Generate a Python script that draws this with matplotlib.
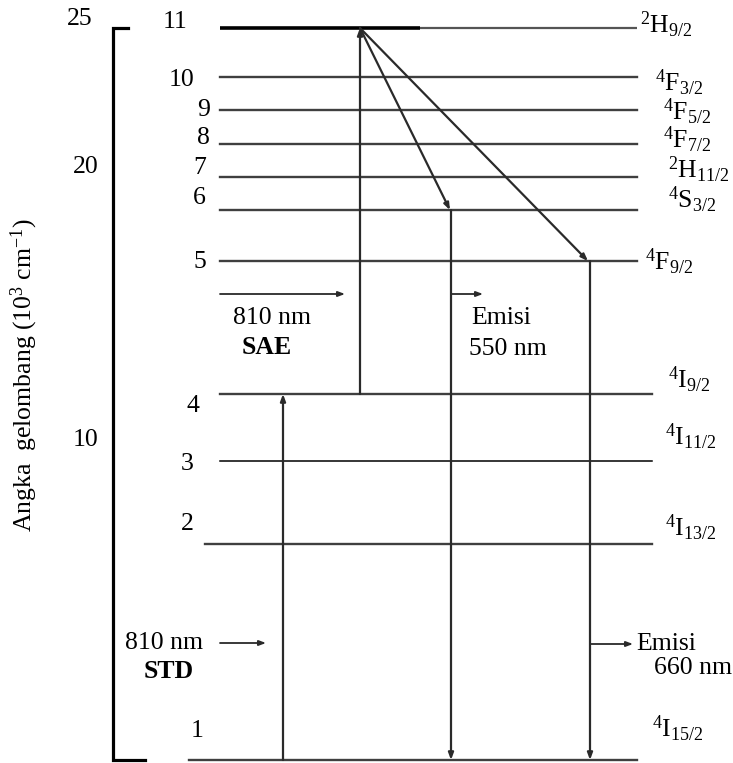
import matplotlib
matplotlib.use('Agg')
import matplotlib.pyplot as plt

plt.rcParams['font.family'] = ['Liberation Serif', 'DejaVu Serif']
plt.rcParams['mathtext.fontset'] = 'custom'
plt.rcParams['mathtext.rm'] = 'Liberation Serif'
plt.rcParams['mathtext.it'] = 'Liberation Serif:italic'
plt.rcParams['mathtext.bf'] = 'Liberation Serif:bold'

# energy levels of Er3+ (10^3 cm^-1)
level_no = [1, 2, 3, 4, 5, 6, 7, 8, 9, 10, 11]
level_E = [0.0, 7.38, 10.21, 12.5, 17.04, 18.78, 19.91, 21.04, 22.2, 23.33, 25.0]
level_terms = [r'$^{4}$I$_{15/2}$', r'$^{4}$I$_{13/2}$', r'$^{4}$I$_{11/2}$', r'$^{4}$I$_{9/2}$',
               r'$^{4}$F$_{9/2}$', r'$^{4}$S$_{3/2}$', r'$^{2}$H$_{11/2}$', r'$^{4}$F$_{7/2}$',
               r'$^{4}$F$_{5/2}$', r'$^{4}$F$_{3/2}$', r'$^{2}$H$_{9/2}$']

axis_min, axis_max = 0, 25
tick_labels = ['25', '20', '10']


def px2e(yp):
    # pixel row of the picture -> energy, only used for text layout
    return (760 - yp) / 29.28


fig = plt.figure(figsize=(7.33, 7.63), dpi=100)
ax = fig.add_axes([0, 0, 1, 1])
ax.set_xlim(0, 733)
ax.set_ylim(px2e(763), px2e(0))
ax.axis('off')

c_line = '#2a2a2a'
fs = 18.5

# axis bracket
ax.plot([128, 113, 113, 145], [axis_max, axis_max, axis_min, axis_min], color='black', lw=2.3,
        solid_joinstyle='miter')
tick_pos = [(80, 19), (86, 167), (86, 440)]
for lab, (xp, yp) in zip(tick_labels, tick_pos):
    ax.text(xp, px2e(yp), lab, fontsize=fs, ha='center', va='center')

# level lines
x_left = {1: 189, 2: 205}
x_right = {2: 652, 3: 652, 4: 652}
for n, e in zip(level_no, level_E):
    x0 = x_left.get(n, 220)
    x1 = x_right.get(n, 637)
    if n == 11:
        ax.plot([x0, 420], [e, e], color='black', lw=2.6, solid_capstyle='butt')
        ax.plot([420, x1], [e, e], color='#555555', lw=1.6, solid_capstyle='butt')
    elif n == 3:
        ax.plot([x0, x1], [e, e], color='black', lw=1.1)
    else:
        ax.plot([x0, x1], [e, e], color=c_line, lw=1.7, alpha=0.9)

# level numbers
num_pos = {11: (187, 22), 10: (194, 80), 9: (210, 110), 8: (210, 138), 7: (206, 168),
           6: (206, 198), 5: (206, 262), 4: (199, 406), 3: (194, 464), 2: (194, 524),
           1: (204, 731)}
for n in level_no:
    xp, yp = num_pos[n]
    ax.text(xp, px2e(yp), str(n), fontsize=fs, ha='right', va='center')

# term symbols on the right
term_pos = [(652, 729), (665, 528), (665, 437), (668, 380), (645, 262), (668, 200),
            (668, 170), (663, 140), (663, 112), (655, 83), (640, 25)]
for t, (xp, yp) in zip(level_terms, term_pos):
    ax.text(xp, px2e(yp), t, fontsize=fs, ha='left', va='center')

E = dict(zip(level_no, level_E))
ap = dict(arrowstyle='-|>,head_length=0.4,head_width=0.15', color=c_line, lw=1.6,
          shrinkA=0, shrinkB=0)

# excitation (STD then SAE)
ax.annotate('', xy=(283, E[4]), xytext=(283, E[1]), arrowprops=ap)
ax.annotate('', xy=(360, E[11]), xytext=(360, E[4]), arrowprops=ap)
# non-radiative relaxation
ax.annotate('', xy=(450, E[6]), xytext=(360, E[11]), arrowprops=ap)
ax.annotate('', xy=(588, E[5]), xytext=(360, E[11]), arrowprops=ap)
# emission
ax.annotate('', xy=(451, E[1]), xytext=(451, E[6]), arrowprops=ap)
ax.annotate('', xy=(590, E[1]), xytext=(590, E[5]), arrowprops=ap)

# small pointer arrows
ap2 = dict(arrowstyle='-|>,head_length=0.4,head_width=0.15', color=c_line, lw=1.3,
           shrinkA=0, shrinkB=0)
for x0, x1, yp in [(220, 345, 294), (452, 483, 294), (220, 266, 643), (590, 633, 644)]:
    ax.annotate('', xy=(x1, px2e(yp)), xytext=(x0, px2e(yp)), arrowprops=ap2)

ax.text(272, px2e(318), '810 nm', fontsize=fs, ha='center', va='center')
ax.text(267, px2e(347), 'SAE', fontsize=fs, ha='center', va='center', fontweight='bold')
ax.text(471, px2e(318), 'Emisi', fontsize=fs, ha='left', va='center')
ax.text(469, px2e(349), '550 nm', fontsize=fs, ha='left', va='center')
ax.text(164, px2e(643), '810 nm', fontsize=fs, ha='center', va='center')
ax.text(169, px2e(672), 'STD', fontsize=fs, ha='center', va='center', fontweight='bold')
ax.text(636, px2e(644), 'Emisi', fontsize=fs, ha='left', va='center')
ax.text(654, px2e(668), '660 nm', fontsize=fs, ha='left', va='center')

ax.text(24, px2e(375), r'Angka  gelombang (10$^{3}$ cm$^{-1}$)', fontsize=fs,
        rotation=90, ha='center', va='center')

fig.savefig('out.png', dpi=100)
